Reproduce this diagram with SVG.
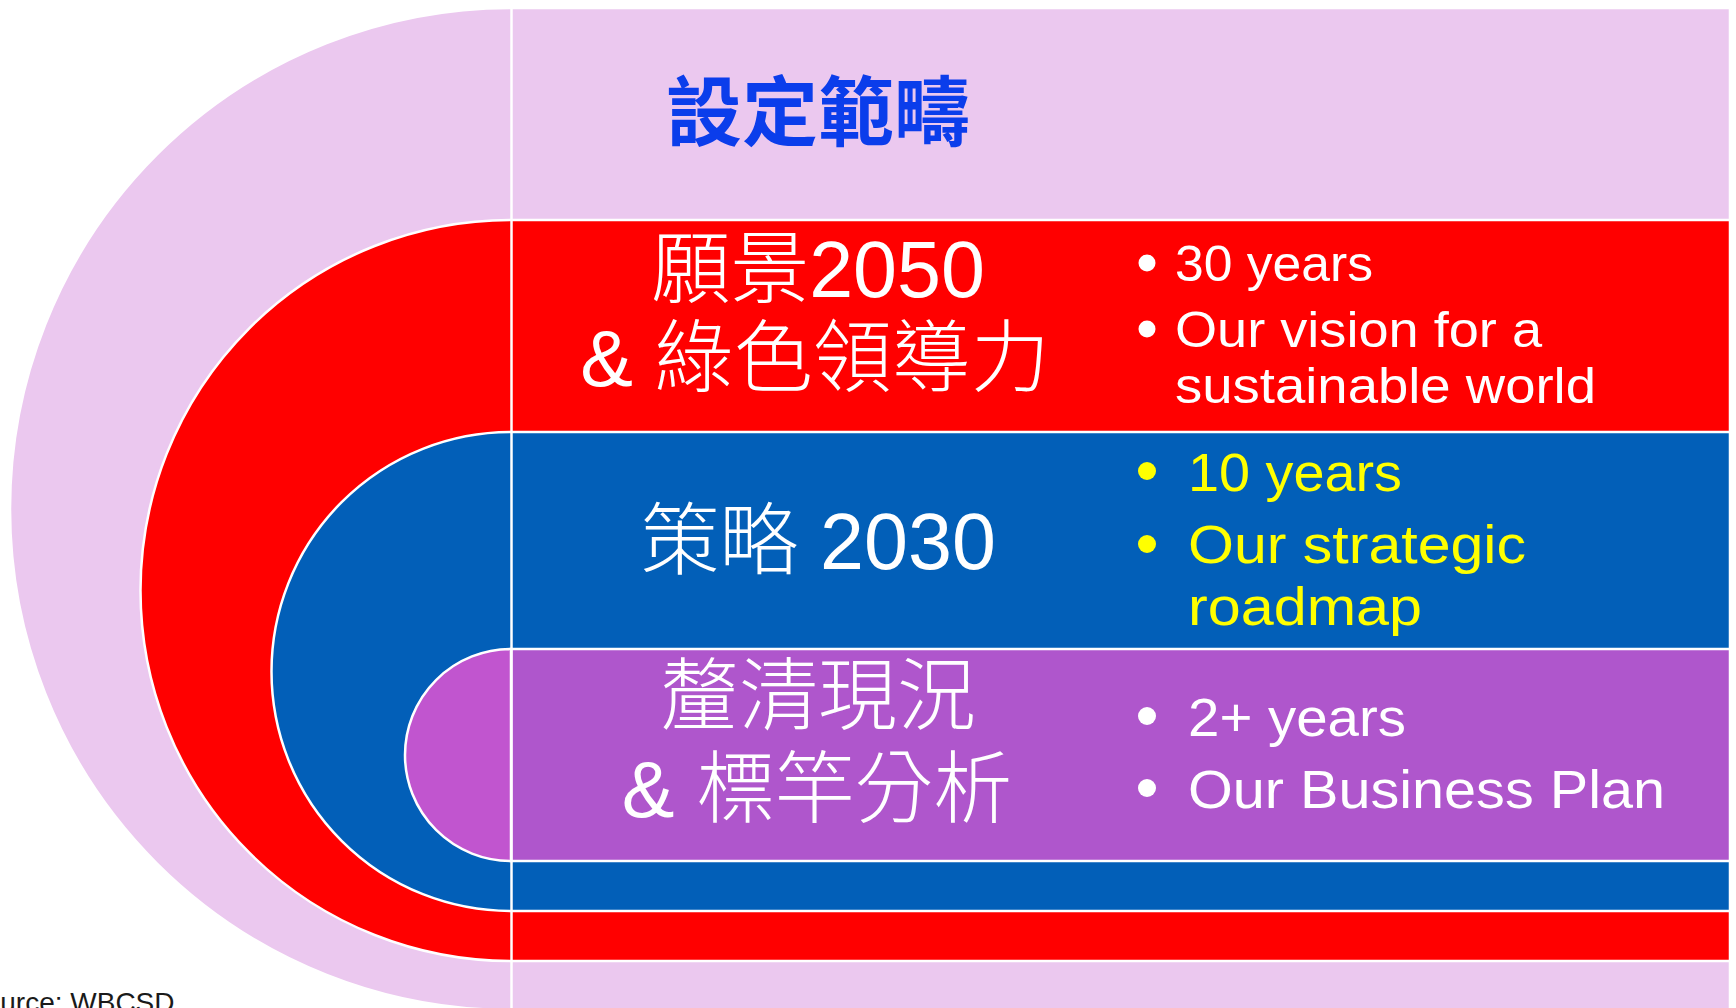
<svg xmlns="http://www.w3.org/2000/svg" width="1736" height="1008" viewBox="0 0 1736 1008">
<style>
  .band { stroke: #FFFFFF; stroke-width: 2.5; }
  .lav { fill: #EBC8EF; }
  .red { fill: #FF0000; }
  .blue { fill: #025FB8; }
  .pur { fill: #AF56CC; }
  .purc { fill: #C155CF; }
  .cjk { font-family: "Liberation Sans", "Noto Sans CJK TC", "Noto Sans CJK SC", sans-serif; font-size: 79px; font-weight: 300; fill: #FFFFFF; text-anchor: middle; }
  .title { font-family: "Noto Sans CJK TC", "Noto Sans CJK SC", sans-serif; font-size: 76px; font-weight: bold; fill: #0B3DEB; text-anchor: middle; }
  .bw { font-family: "Liberation Sans", Arial, sans-serif; fill: #FFFFFF; }
  .by { font-family: "Liberation Sans", Arial, sans-serif; fill: #FFFF00; }
  .src { font-family: "Liberation Sans", Arial, sans-serif; font-size: 28px; fill: #1A1A1A; }
</style>

<g id="layer-scope">
  <path class="band lav" d="M1730 8 H511 A501 501 0 0 0 511 1010 H1730 Z"/>
  <text class="title" x="818" y="140">設定範疇</text>
</g>

<g id="layer-vision">
  <path class="band red" d="M1730 220 H511 A370.5 370.5 0 0 0 511 961 H1730 Z"/>
</g>

<g id="layer-strategy">
  <path class="band blue" d="M1730 432 H511 A239.5 239.5 0 0 0 511 911 H1730 Z"/>
</g>

<g id="layer-current">
  <rect class="band pur" x="511" y="649" width="1219" height="212"/>
  <path class="band purc" d="M511 649 A106 106 0 0 0 511 861 Z"/>
</g>

<line x1="511.5" y1="8" x2="511.5" y2="1008" stroke="#FFFFFF" stroke-width="2.5"/>

<g id="label-vision">
  <text class="cjk" x="818" y="297">願景2050</text>
  <text class="cjk" x="815" y="386">&amp; 綠色領導力</text>
  <circle cx="1147" cy="263" r="8.5" fill="#FFFFFF"/>
  <circle cx="1147" cy="329" r="8.5" fill="#FFFFFF"/>
  <text class="bw" font-size="50" x="1175" y="281" textLength="198" lengthAdjust="spacingAndGlyphs">30 years</text>
  <text class="bw" font-size="50" x="1175" y="347" textLength="367" lengthAdjust="spacingAndGlyphs">Our vision for a</text>
  <text class="bw" font-size="50" x="1175" y="403" textLength="421" lengthAdjust="spacingAndGlyphs">sustainable world</text>
</g>

<g id="label-strategy">
  <text class="cjk" x="818" y="569">策略 2030</text>
  <circle cx="1147" cy="471" r="9" fill="#FFFF00"/>
  <circle cx="1147" cy="544" r="9" fill="#FFFF00"/>
  <text class="by" font-size="54" x="1188" y="491" textLength="214" lengthAdjust="spacingAndGlyphs">10 years</text>
  <text class="by" font-size="54" x="1188" y="563" textLength="338" lengthAdjust="spacingAndGlyphs">Our strategic</text>
  <text class="by" font-size="54" x="1188" y="625" textLength="234" lengthAdjust="spacingAndGlyphs">roadmap</text>
</g>

<g id="label-current">
  <text class="cjk" x="818" y="724">釐清現況</text>
  <text class="cjk" x="817" y="817">&amp; 標竿分析</text>
  <circle cx="1147" cy="716" r="9" fill="#FFFFFF"/>
  <circle cx="1147" cy="788" r="9" fill="#FFFFFF"/>
  <text class="bw" font-size="54" x="1188" y="736" textLength="218" lengthAdjust="spacingAndGlyphs">2+ years</text>
  <text class="bw" font-size="54" x="1188" y="808" textLength="477" lengthAdjust="spacingAndGlyphs">Our Business Plan</text>
</g>

<g id="source">
  <text class="src" x="-34" y="1012">Source: WBCSD</text>
</g>
</svg>
